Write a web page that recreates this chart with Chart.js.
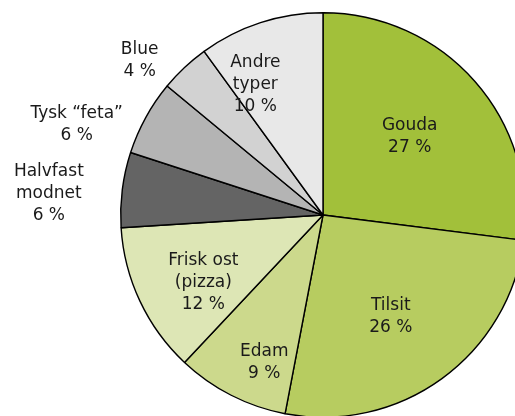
<!DOCTYPE html>
<html>
<head>
<meta charset="utf-8">
<script src="https://cdn.jsdelivr.net/npm/chart.js@4/dist/chart.umd.min.js"></script>
<style>
  html, body { margin: 0; padding: 0; background: #fff; overflow: hidden; }
  #wrap { position: absolute; left: 0; top: 0; width: 646px; height: 430px; }
</style>
</head>
<body>
<div id="wrap"><canvas id="pie"></canvas></div>
<script>
// cheese types, clockwise from 12 o'clock
const labels = ['Gouda', 'Tilsit', 'Edam', 'Frisk ost\n(pizza)', 'Halvfast\nmodnet', 'Tysk “feta”', 'Blue', 'Andre\ntyper'];
const shares = [27, 26, 9, 12, 6, 6, 4, 10];

const colors = ['#a2c03a', '#b7cc60', '#ccd98c', '#dde6b5', '#646464', '#b4b4b4', '#d2d2d2', '#e8e8e8'];

// where each label sits: fraction of radius, and angle shift (deg) from slice middle
const labelPlace = [
  { r: 0.584, a: -1.4 },
  { r: 0.596, a: 1.8 },
  { r: 0.776, a: -5 },
  { r: 0.675, a: -3.6 },
  { r: 1.36, a: -2.4 },
  { r: 1.30, a: -8.3 },
  { r: 1.19, a: -6.4 },
  { r: 0.734, a: -9.1 }
];

const sliceLabels = {
  id: 'sliceLabels',
  afterDatasetsDraw(chart) {
    const ctx = chart.ctx;
    const meta = chart.getDatasetMeta(0);
    ctx.save();
    ctx.font = '17px "DejaVu Sans"';
    ctx.fillStyle = '#1a1a1a';
    ctx.textAlign = 'center';
    ctx.textBaseline = 'middle';
    meta.data.forEach((arc, i) => {
      const p = labelPlace[i];
      const mid = (arc.startAngle + arc.endAngle) / 2 + p.a * Math.PI / 180;
      const dist = arc.outerRadius * p.r;
      const cx = arc.x + Math.cos(mid) * dist;
      const cy = arc.y + Math.sin(mid) * dist + 2;
      const lines = labels[i].split('\n').concat([shares[i] + ' %']);
      const lh = 22;
      lines.forEach((t, k) => {
        ctx.fillText(t, cx, cy + (k - (lines.length - 1) / 2) * lh);
      });
    });
    ctx.restore();
  }
};

new Chart(document.getElementById('pie'), {
  type: 'pie',
  data: {
    labels: labels,
    datasets: [{
      data: shares,
      backgroundColor: colors,
      borderColor: '#000',
      borderWidth: 1.4
    }]
  },
  options: {
    responsive: true,
    maintainAspectRatio: false,
    animation: false,
    layout: { padding: { top: 12, bottom: 12 } },
    plugins: {
      legend: { display: false },
      tooltip: { enabled: false }
    }
  },
  plugins: [sliceLabels]
});
</script>
</body>
</html>
